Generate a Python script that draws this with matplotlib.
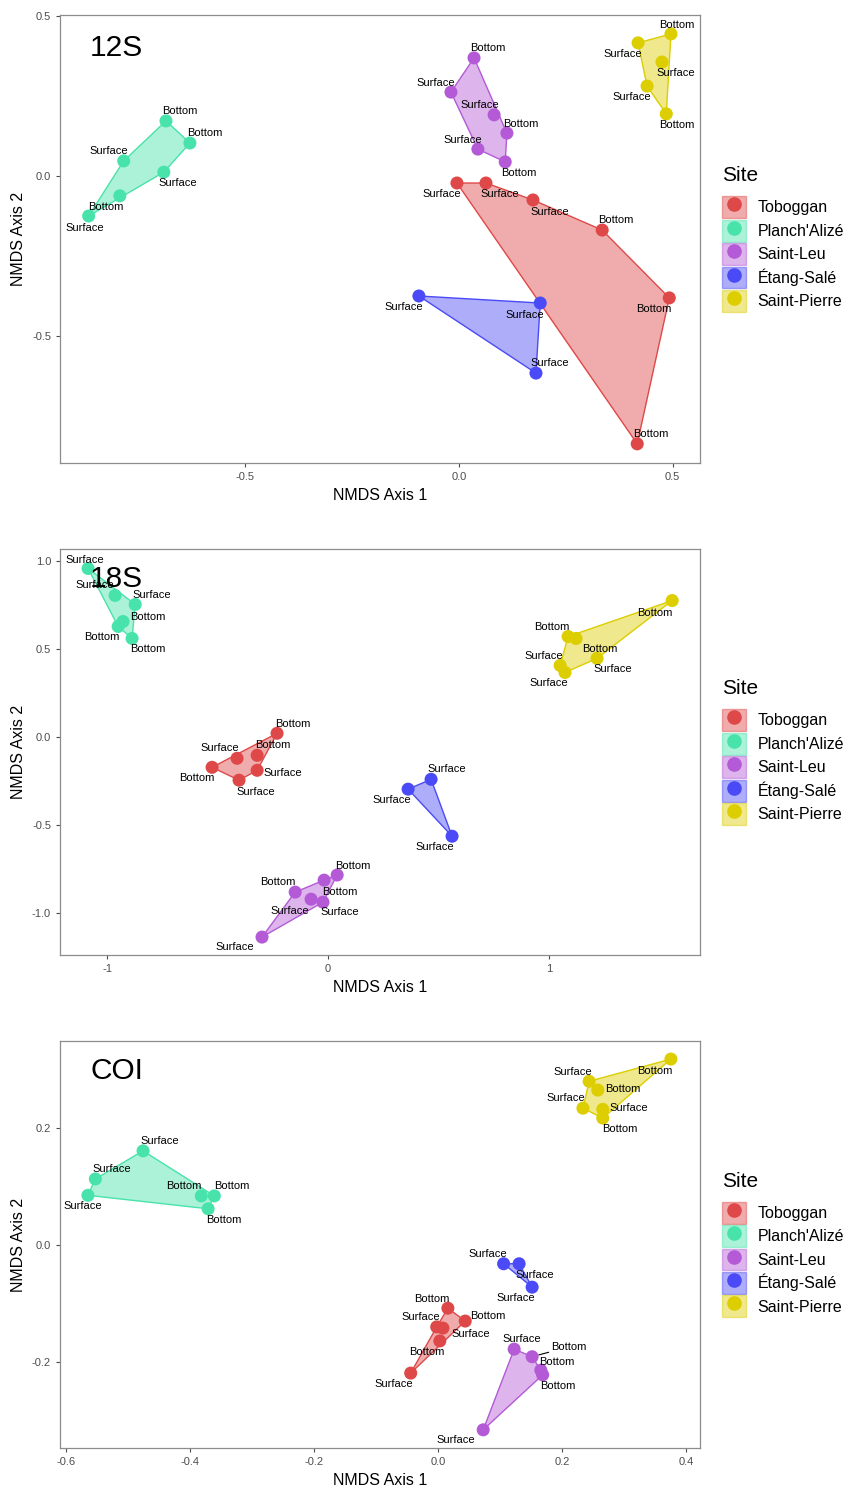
import matplotlib
matplotlib.use("Agg")
import matplotlib.pyplot as plt
from matplotlib.patches import Patch, Polygon
from matplotlib.lines import Line2D

plt.rcParams['font.family'] = ['Liberation Sans', 'DejaVu Sans']

sites = ["Toboggan", "Planch'Alizé", "Saint-Leu", "Étang-Salé", "Saint-Pierre"]
site_colors = ["#DF4848", "#47E3AA", "#B45AD6", "#4A4AF6", "#DCCE00"]

# 12S
s12_site = ["Planch'Alizé"] * 6 + ["Saint-Leu"] * 6 + ["Saint-Pierre"] * 5 + ["Toboggan"] * 6 + ["Étang-Salé"] * 3
s12_depth = ["Bottom", "Bottom", "Surface", "Surface", "Bottom", "Surface",
             "Bottom", "Surface", "Surface", "Bottom", "Surface", "Bottom",
             "Surface", "Bottom", "Surface", "Surface", "Bottom",
             "Surface", "Surface", "Surface", "Bottom", "Bottom", "Bottom",
             "Surface", "Surface", "Surface"]
s12_x = [-0.686, -0.630, -0.785, -0.691, -0.794, -0.867,
         0.035, -0.019, 0.082, 0.112, 0.044, 0.108,
         0.419, 0.496, 0.475, 0.440, 0.485,
         -0.005, 0.063, 0.173, 0.335, 0.492, 0.417,
         -0.094, 0.190, 0.180]
s12_y = [0.172, 0.103, 0.047, 0.012, -0.062, -0.125,
         0.369, 0.262, 0.191, 0.134, 0.084, 0.044,
         0.416, 0.444, 0.356, 0.281, 0.194,
         -0.022, -0.022, -0.075, -0.169, -0.381, -0.837,
         -0.375, -0.397, -0.616]

# 18S
s18_site = ["Planch'Alizé"] * 6 + ["Saint-Pierre"] * 6 + ["Toboggan"] * 6 + ["Étang-Salé"] * 3 + ["Saint-Leu"] * 6
s18_depth = ["Surface", "Surface", "Surface", "Bottom", "Bottom", "Bottom",
             "Bottom", "Bottom", "Bottom", "Surface", "Surface", "Surface",
             "Bottom", "Surface", "Bottom", "Bottom", "Surface", "Surface",
             "Surface", "Surface", "Surface",
             "Bottom", "Bottom", "Bottom", "Surface", "Surface", "Surface"]
s18_x = [-1.086, -0.964, -0.873, -0.928, -0.950, -0.887,
         1.557, 1.086, 1.122, 1.217, 1.050, 1.072,
         -0.231, -0.412, -0.321, -0.525, -0.321, -0.403,
         0.466, 0.362, 0.561,
         0.041, -0.018, -0.149, -0.077, -0.023, -0.299]
s18_y = [0.955, 0.802, 0.751, 0.654, 0.626, 0.558,
         0.773, 0.569, 0.558, 0.445, 0.405, 0.365,
         0.020, -0.122, -0.105, -0.173, -0.190, -0.246,
         -0.241, -0.297, -0.564,
         -0.784, -0.813, -0.881, -0.921, -0.938, -1.136]

# COI
coi_site = ["Planch'Alizé"] * 6 + ["Saint-Pierre"] * 6 + ["Étang-Salé"] * 3 + ["Toboggan"] * 6 + ["Saint-Leu"] * 5
coi_depth = ["Surface", "Surface", "Surface", "Bottom", "Bottom", "Bottom",
             "Bottom", "Surface", "Bottom", "Surface", "Surface", "Bottom",
             "Surface", "Surface", "Surface",
             "Bottom", "Bottom", "Surface", "Surface", "Bottom", "Surface",
             "Surface", "Bottom", "Bottom", "Bottom", "Surface"]
coi_x = [-0.476, -0.553, -0.565, -0.382, -0.361, -0.371,
         0.376, 0.244, 0.258, 0.234, 0.266, 0.266,
         0.106, 0.131, 0.152,
         0.016, 0.044, -0.002, 0.008, 0.003, -0.044,
         0.123, 0.152, 0.166, 0.169, 0.073]
coi_y = [0.161, 0.113, 0.085, 0.084, 0.084, 0.062,
         0.318, 0.280, 0.265, 0.234, 0.232, 0.217,
         -0.032, -0.032, -0.072,
         -0.108, -0.130, -0.140, -0.142, -0.164, -0.219,
         -0.178, -0.191, -0.214, -0.222, -0.316]

# label offsets in pixels (layout only)
s12_off = [(14, 10), (15, 10), (-15, 10), (14, -11), (-14, -11), (-4, -12),
           (14, 10), (-15, 9), (-14, 10), (14, 9), (-15, 9), (14, -11),
           (-15, -11), (6, 9), (14, -11), (-15, -11), (11, -11),
           (-15, -11), (14, -11), (17, -12), (14, 10), (-15, -11), (14, 10),
           (-15, -11), (-15, -12), (14, 10)]
s18_off = [(-3, 8), (-20, 10), (17, 9), (25, 5), (-16, -11), (16, -11),
           (-17, -12), (-16, 10), (24, -11), (16, -11), (-16, 9), (-16, -11),
           (16, 9), (-17, 10), (16, 10), (-15, -11), (26, -3), (17, -12),
           (16, 10), (-16, -11), (-17, -11),
           (16, 9), (16, -12), (-17, 10), (-21, -12), (17, -10), (-27, -10)]
coi_off = [(17, 10), (16, 10), (-5, -11), (-17, 10), (18, 10), (16, -11),
           (-16, -12), (-16, 9), (25, 1), (-17, 10), (26, 1), (17, -11),
           (-16, 10), (16, -11), (-16, -11),
           (-16, 9), (23, 5), (-16, 10), (28, -6), (-13, -11), (-17, -11),
           (8, 10), (37, 10), (16, 8), (15, -11), (-27, -10)]


def convex_hull(pts):
    pts = sorted(set(pts))
    if len(pts) < 3:
        return pts

    def cross(o, a, b):
        return (a[0] - o[0]) * (b[1] - o[1]) - (a[1] - o[1]) * (b[0] - o[0])

    lower, upper = [], []
    for p in pts:
        while len(lower) >= 2 and cross(lower[-2], lower[-1], p) <= 0:
            lower.pop()
        lower.append(p)
    for p in reversed(pts):
        while len(upper) >= 2 and cross(upper[-2], upper[-1], p) <= 0:
            upper.pop()
        upper.append(p)
    return lower[:-1] + upper[:-1]


def draw_panel(ax, title, site, depth, xs, ys, offs, xticks, xlabels, yticks, ylabels, xlim, ylim):
    for s, c in zip(sites, site_colors):
        pts = [(x, y) for x, y, ss in zip(xs, ys, site) if ss == s]
        hull = convex_hull(pts)
        ax.add_patch(Polygon(hull, closed=True, facecolor=c, alpha=0.45, edgecolor='none', zorder=1))
        ax.add_patch(Polygon(hull, closed=True, facecolor='none', edgecolor=c, lw=1.0, zorder=2))
    for s, c in zip(sites, site_colors):
        px = [x for x, ss in zip(xs, site) if ss == s]
        py = [y for y, ss in zip(ys, site) if ss == s]
        ax.scatter(px, py, s=88, color=c, edgecolor='none', zorder=3)
    for x, y, d, o in zip(xs, ys, depth, offs):
        arrow = None
        if abs(o[0]) > 30:
            arrow = dict(arrowstyle='-', color='black', lw=0.8, shrinkA=0, shrinkB=5)
        ax.annotate(d, (x, y), xytext=o, textcoords='offset pixels', ha='center', va='center',
                    fontsize=8, zorder=4, arrowprops=arrow)
    ax.set_xlim(*xlim)
    ax.set_ylim(*ylim)
    ax.set_xticks(xticks)
    ax.set_xticklabels(xlabels)
    ax.set_yticks(yticks)
    ax.set_yticklabels(ylabels)
    ax.tick_params(labelsize=8, colors='#4D4D4D', length=3, width=0.8)
    for sp in ax.spines.values():
        sp.set_color('#8C8C8C')
        sp.set_linewidth(0.9)
    ax.set_xlabel("NMDS Axis 1", fontsize=11.5, labelpad=4)
    ax.set_ylabel("NMDS Axis 2", fontsize=11.5, labelpad=4)
    ax.text(0.047, 0.927, title, transform=ax.transAxes, fontsize=21.5, va='center', ha='left', zorder=5)

    handles = [(Patch(facecolor=c, alpha=0.45, edgecolor=c, lw=1.0),
                Line2D([], [], marker='o', ls='none', color=c, markersize=9.5))
               for c in site_colors]
    leg = ax.legend(handles, sites, title="Site", loc='center left', bbox_to_anchor=(1.025, 0.5),
                    frameon=False, fontsize=11.5, title_fontsize=15, handlelength=1.45,
                    handleheight=1.74, labelspacing=0.09, handletextpad=0.75, borderaxespad=0)
    leg._legend_box.align = "left"
    leg._legend_box.sep = 8


fig = plt.figure(figsize=(8.48, 14.86), dpi=100)
ax1 = fig.add_axes([0.0708, 0.6884, 0.7547, 0.3015])
ax2 = fig.add_axes([0.0708, 0.3573, 0.7547, 0.2732])
ax3 = fig.add_axes([0.0708, 0.0256, 0.7547, 0.2739])

draw_panel(ax1, "12S", s12_site, s12_depth, s12_x, s12_y, s12_off,
           [-0.5, 0, 0.5], ["-0.5", "0.0", "0.5"], [-0.5, 0, 0.5], ["-0.5", "0.0", "0.5"],
           (-0.934, 0.564), (-0.897, 0.503))
draw_panel(ax2, "18S", s18_site, s18_depth, s18_x, s18_y, s18_off,
           [-1, 0, 1], ["-1", "0", "1"], [-1, -0.5, 0, 0.5, 1], ["-1.0", "-0.5", "0.0", "0.5", "1.0"],
           (-1.213, 1.683), (-1.238, 1.065))
draw_panel(ax3, "COI", coi_site, coi_depth, coi_x, coi_y, coi_off,
           [-0.6, -0.4, -0.2, 0, 0.2, 0.4], ["-0.6", "-0.4", "-0.2", "0.0", "0.2", "0.4"],
           [-0.2, 0, 0.2], ["-0.2", "0.0", "0.2"],
           (-0.610, 0.423), (-0.347, 0.349))

fig.savefig("out.png", dpi=100, facecolor='white')
